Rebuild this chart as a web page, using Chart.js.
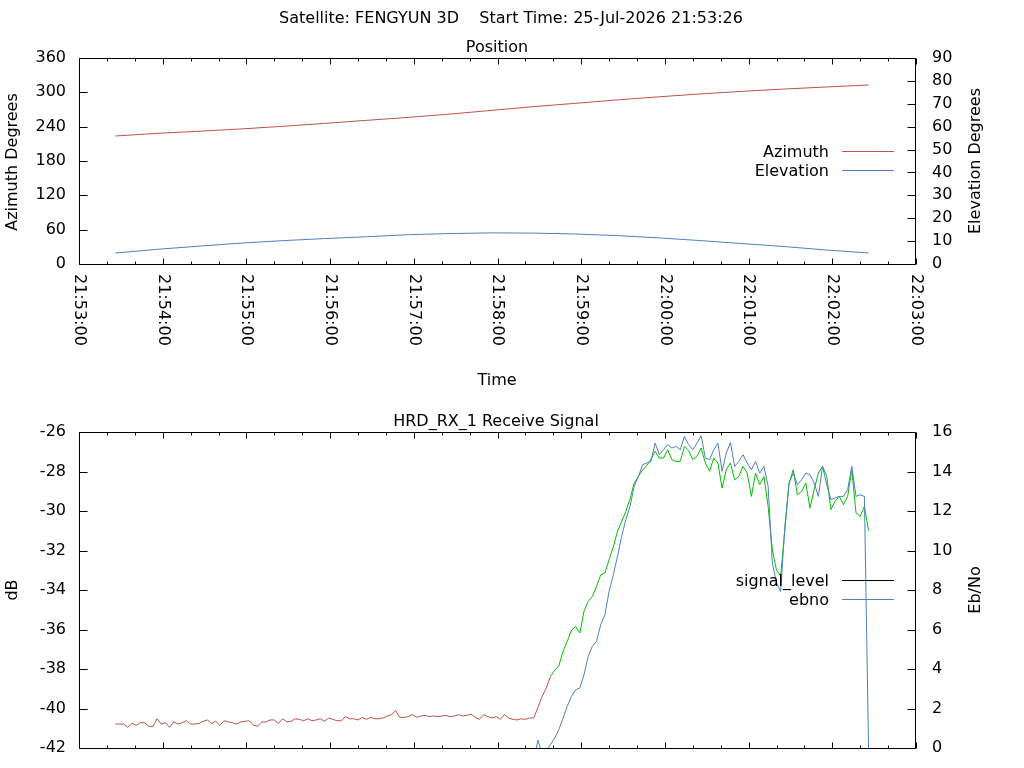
<!DOCTYPE html>
<html>
<head>
<meta charset="utf-8">
<title>FENGYUN 3D pass</title>
<script src="https://cdn.jsdelivr.net/npm/chart.js@4.4.1/dist/chart.umd.min.js"></script>
<style>
  html, body { margin: 0; padding: 0; background: #fff; }
  #wrap { position: relative; width: 1024px; height: 768px; overflow: hidden; }
  canvas { position: absolute; left: 0; }
  #posChart { top: 0; }
  #sigChart { top: 400px; }
</style>
</head>
<body>
<div id="wrap">
  <canvas id="posChart" width="1024" height="400"></canvas>
  <canvas id="sigChart" width="1024" height="400"></canvas>
</div>
<script>
// Pass data, seconds counted from 21:53:00

const MAIN_TITLE = 'Satellite: FENGYUN 3D    Start Time: 25-Jul-2026 21:53:26';

const timeTickLabels = [
    '21:53:00', '21:54:00', '21:55:00', '21:56:00', '21:57:00', '21:58:00',
    '21:59:00', '22:00:00', '22:01:00', '22:02:00', '22:03:00'
];

// Position plot
const positionTimes = [26, 56, 86, 116, 146, 176, 206, 236, 266, 296, 326, 356, 386, 416, 446, 476, 506, 536, 566];
const azimuth = [223.7, 228.3, 232.0, 236.0, 240.6, 245.7, 251.0, 256.2, 262.0, 268.5,
    275.0, 280.8, 286.8, 292.2, 297.3, 301.8, 305.8, 309.4, 312.8];
const elevation = [4.8, 6.4, 7.8, 9.1, 10.2, 11.1, 11.9, 12.8, 13.3, 13.6,
    13.5, 13.1, 12.4, 11.4, 10.2, 8.9, 7.6, 6.1, 4.8];

// Receive signal, one sample every 3 s starting at 21:53:26
const SAMPLE_START = 26;
const SAMPLE_STEP = 3;
const LOCK_TIME = 336;   // demodulator lock, signal trace turns green

const signalLevel = [
    -40.79, -40.79, -40.79, -40.95, -40.75, -40.85, -40.72, -40.72, -40.90, -40.92,
    -40.52, -40.79, -40.72, -40.95, -40.68, -40.79, -40.72, -40.62, -40.79, -40.79,
    -40.75, -40.65, -40.58, -40.75, -40.65, -40.85, -40.62, -40.68, -40.72, -40.79,
    -40.68, -40.65, -40.62, -40.85, -40.89, -40.68, -40.68, -40.58, -40.58, -40.75,
    -40.52, -40.68, -40.65, -40.52, -40.55, -40.62, -40.52, -40.62, -40.58, -40.52,
    -40.65, -40.48, -40.55, -40.62, -40.62, -40.41, -40.52, -40.52, -40.58, -40.45,
    -40.55, -40.45, -40.52, -40.52, -40.48, -40.38, -40.31, -40.11, -40.45, -40.45,
    -40.41, -40.31, -40.45, -40.38, -40.35, -40.41, -40.38, -40.41, -40.38, -40.35,
    -40.41, -40.38, -40.31, -40.38, -40.35, -40.28, -40.45, -40.55, -40.31, -40.41,
    -40.48, -40.41, -40.55, -40.31, -40.48, -40.55, -40.58, -40.52, -40.55, -40.48,
    -40.48, -39.94, -39.39, -38.96, -38.37, -38.07, -37.83, -37.11, -36.60, -36.04,
    -35.84, -36.18, -35.08, -34.58, -34.32, -33.82, -33.23, -33.14, -32.47, -31.82,
    -31.03, -30.53, -30.02, -29.40, -28.58, -28.25, -27.91, -27.71, -27.37, -26.98,
    -27.32, -27.32, -26.90, -27.40, -27.49, -27.49, -26.73, -26.93, -27.40, -27.23,
    -26.81, -27.57, -27.99, -27.32, -27.57, -28.84, -27.91, -27.57, -28.42, -28.25,
    -27.74, -28.08, -29.26, -28.08, -28.67, -28.25, -29.77, -31.96, -33.00, -33.30,
    -30.95, -28.58, -27.91, -29.18, -29.01, -28.58, -29.85, -28.92, -28.08, -27.74,
    -28.25, -29.93, -29.51, -29.26, -29.68, -29.26, -27.91, -30.10, -30.27, -29.77,
    -31.00
];

const ebno = [
    null, null, null, null, null, null, null, null, null, null,
    null, null, null, null, null, null, null, null, null, null,
    null, null, null, null, null, null, null, null, null, null,
    null, null, null, null, null, null, null, null, null, null,
    null, null, null, null, null, null, null, null, null, null,
    null, null, null, null, null, null, null, null, null, null,
    null, null, null, null, null, null, null, null, null, null,
    null, null, null, null, null, null, null, null, null, null,
    null, null, null, null, null, null, null, null, null, null,
    null, null, null, null, null, null, null, null, null, null,
    -0.60, 0.40, -0.30, -0.10, 0.17, 0.50, 0.93, 1.52, 2.11, 2.61,
    2.95, 3.04, 3.71, 4.64, 5.15, 5.40, 6.24, 6.75, 7.93, 8.77,
    9.70, 10.72, 11.56, 12.23, 13.25, 13.75, 14.34, 14.43, 14.51, 15.44,
    14.85, 15.10, 15.36, 15.19, 15.27, 15.10, 15.78, 15.36, 15.10, 15.44,
    15.81, 14.68, 14.60, 15.10, 15.44, 14.01, 14.93, 15.47, 14.26, 14.51,
    14.85, 14.43, 14.09, 14.51, 13.92, 14.26, 13.25, 9.37, 8.35, 7.93,
    11.22, 13.42, 13.92, 13.33, 13.58, 13.92, 13.84, 13.42, 12.74, 14.26,
    13.33, 12.57, 12.66, 12.74, 12.74, 13.08, 14.26, 12.74, 12.82, 12.74,
    0
];

const RED = '#c0504d';
const BLUE = '#4f81bd';
const GREEN = '#00c000';
const FONT = 'DejaVu Sans';

Chart.defaults.font.family = FONT;
Chart.defaults.font.size = 16;
Chart.defaults.color = '#000';

const sampleTimes = signalLevel.map((v, i) => SAMPLE_START + i * SAMPLE_STEP);

function toPoints(times, values) {
    return times.map((t, i) => ({ x: t, y: values[i] }));
}

/**
 * Gnuplot style frame: border, inward ticks, rotated time labels,
 * titles and the key (text right aligned, sample line after it)
 */
const gnuplotFrame = {
    id: 'gnuplotFrame',
    afterDraw(chart, args, opts) {
        const ctx = chart.ctx;
        const area = chart.chartArea;
        const xs = chart.scales.x;
        const ys = chart.scales.y;
        const y2s = chart.scales.y2;
        const L = area.left + 0.5, R = area.right - 0.5;
        const T = area.top + 0.5, B = area.bottom + 0.5;

        ctx.save();
        ctx.strokeStyle = '#000';
        ctx.lineWidth = 1;
        ctx.beginPath();
        ctx.rect(L, T, R - L, B - T);
        for (let s = xs.min; s <= xs.max; s += 20) {
            const px = Math.round(xs.getPixelForValue(s)) + 0.5;
            const len = s % 60 === 0 ? 6 : 3;
            ctx.moveTo(px, B); ctx.lineTo(px, B - len);
            ctx.moveTo(px, T); ctx.lineTo(px, T + len);
        }
        ys.ticks.forEach(t => {
            const py = Math.round(ys.getPixelForValue(t.value)) + 0.5;
            ctx.moveTo(L, py); ctx.lineTo(L + 8, py);
        });
        y2s.ticks.forEach(t => {
            const py = Math.round(y2s.getPixelForValue(t.value)) + 0.5;
            ctx.moveTo(R, py); ctx.lineTo(R - 8, py);
        });
        ctx.stroke();

        ctx.fillStyle = '#000';
        ctx.font = '16px "' + FONT + '"';

        if (opts.timeLabels) {
            timeTickLabels.forEach((label, i) => {
                const px = xs.getPixelForValue(i * 60);
                ctx.save();
                ctx.translate(px, area.bottom + 10);
                ctx.rotate(Math.PI / 2);
                ctx.textAlign = 'left';
                ctx.textBaseline = 'middle';
                ctx.fillText(label, 0, 0);
                ctx.restore();
            });
        }

        (opts.texts || []).forEach(item => {
            ctx.save();
            ctx.translate(item.x, item.y);
            ctx.textAlign = 'center';
            if (item.rotate) {
                ctx.rotate(-Math.PI / 2);
                ctx.textBaseline = 'middle';
            } else {
                ctx.textBaseline = 'alphabetic';
            }
            ctx.fillText(item.text, 0, 0);
            ctx.restore();
        });

        if (opts.key) {
            const k = opts.key;
            chart.data.datasets.forEach((ds, i) => {
                const ly = k.rows[i] + 0.5;
                ctx.textAlign = 'right';
                ctx.textBaseline = 'alphabetic';
                ctx.fillStyle = '#000';
                ctx.fillText(ds.label, k.textRight, k.rows[i] + 5.5);
                ctx.strokeStyle = ds.borderColor;
                ctx.beginPath();
                ctx.moveTo(k.lineFrom, ly);
                ctx.lineTo(k.lineTo, ly);
                ctx.stroke();
            });
        }
        ctx.restore();
    }
};

function timeAxis(height) {
    return {
        type: 'linear',
        min: 0,
        max: 600,
        grid: { display: false, drawTicks: false },
        border: { display: false },
        ticks: { display: false, stepSize: 60 },
        afterFit: scale => { scale.height = height; }
    };
}

function valueAxis(side, min, max, step, width, padding) {
    return {
        type: 'linear',
        position: side,
        min: min,
        max: max,
        grid: { display: false, drawTicks: false },
        border: { display: false },
        ticks: { stepSize: step, padding: padding, color: '#000', font: { size: 16 } },
        afterFit: scale => { scale.width = width; }
    };
}

const commonOptions = {
    responsive: false,
    animation: false,
    devicePixelRatio: 1,
    events: []
};

new Chart(document.getElementById('posChart').getContext('2d'), {
    type: 'line',
    data: {
        datasets: [{
            label: 'Azimuth',
            data: toPoints(positionTimes, azimuth),
            yAxisID: 'y',
            borderColor: RED,
            borderWidth: 1,
            pointRadius: 0,
            tension: 0
        }, {
            label: 'Elevation',
            data: toPoints(positionTimes, elevation),
            yAxisID: 'y2',
            borderColor: BLUE,
            borderWidth: 1,
            pointRadius: 0,
            tension: 0
        }]
    },
    options: Object.assign({}, commonOptions, {
        layout: { padding: { top: 58, left: 0, right: 0, bottom: 0 } },
        scales: {
            x: timeAxis(136),
            y: valueAxis('left', 0, 360, 60, 79, 13),
            y2: valueAxis('right', 0, 90, 10, 108, 16)
        },
        plugins: {
            legend: { display: false },
            tooltip: { enabled: false },
            gnuplotFrame: {
                timeLabels: true,
                texts: [
                    { text: MAIN_TITLE, x: 511, y: 23 },
                    { text: 'Position', x: 497, y: 52 },
                    { text: 'Time', x: 497, y: 385 },
                    { text: 'Azimuth Degrees', x: 13, y: 162, rotate: true },
                    { text: 'Elevation Degrees', x: 976, y: 161, rotate: true }
                ],
                key: { textRight: 829, lineFrom: 842, lineTo: 894, rows: [151, 170] }
            }
        }
    }),
    plugins: [gnuplotFrame]
});

// canvas runs past the window bottom so the frame can sit at y = 748
new Chart(document.getElementById('sigChart').getContext('2d'), {
    type: 'line',
    data: {
        datasets: [{
            label: 'signal_level',
            data: toPoints(sampleTimes, signalLevel),
            yAxisID: 'y',
            borderColor: '#000',
            borderWidth: 1,
            pointRadius: 0,
            tension: 0,
            order: 1,
            segment: {
                borderColor: c => c.p0.parsed.x >= LOCK_TIME ? GREEN : RED
            }
        }, {
            label: 'ebno',
            data: toPoints(sampleTimes, ebno),
            yAxisID: 'y2',
            borderColor: BLUE,
            borderWidth: 1,
            pointRadius: 0,
            tension: 0,
            order: 0
        }]
    },
    options: Object.assign({}, commonOptions, {
        layout: { padding: { top: 32, left: 0, right: 0, bottom: 0 } },
        scales: {
            x: timeAxis(52),
            y: valueAxis('left', -42, -26, 2, 79, 13),
            y2: valueAxis('right', 0, 16, 2, 108, 16)
        },
        plugins: {
            legend: { display: false },
            tooltip: { enabled: false },
            gnuplotFrame: {
                timeLabels: false,
                texts: [
                    { text: 'HRD_RX_1 Receive Signal', x: 496, y: 26 },
                    { text: 'dB', x: 13, y: 190, rotate: true },
                    { text: 'Eb/No', x: 976, y: 190, rotate: true }
                ],
                key: { textRight: 829, lineFrom: 842, lineTo: 894, rows: [180, 199] }
            }
        }
    }),
    plugins: [gnuplotFrame]
});
</script>
</body>
</html>
